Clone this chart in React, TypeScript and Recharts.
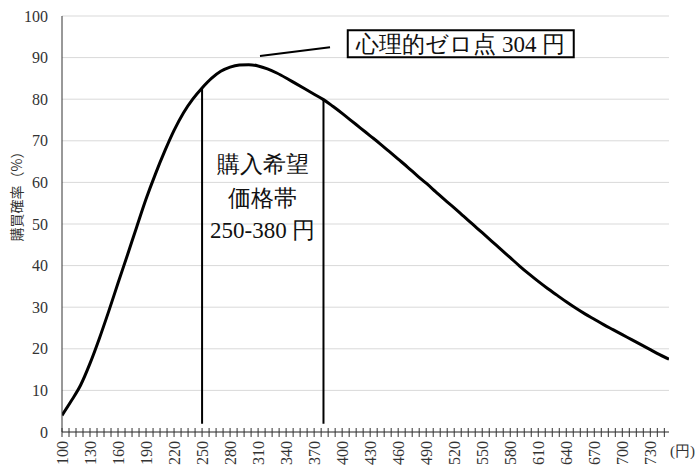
import React from "react";
import {
  CartesianGrid,
  Line,
  LineChart,
  ReferenceArea,
  ReferenceDot,
  ReferenceLine,
  XAxis,
  YAxis,
} from "recharts";

// 価格（円）
const prices = [
  100, 110, 120, 130, 140, 150, 160, 170, 180, 190, 200, 210, 220, 230, 240, 250, 260, 270, 280, 290,
  300, 310, 320, 330, 340, 350, 360, 370, 380, 390, 400, 410, 420, 430, 440, 450, 460, 470, 480, 490,
  500, 510, 520, 530, 540, 550, 560, 570, 580, 590, 600, 610, 620, 630, 640, 650, 660, 670, 680, 690,
  700, 710, 720, 730, 740, 750,
];

// 購買確率（%）
const probability = [
  4.0, 7.5, 11.3, 16.5, 22.5, 29.0, 35.8, 42.5, 49.3, 56.0, 62.0, 67.5, 72.5, 76.7, 80.0, 82.7, 85.0, 86.7, 87.7, 88.2,
  88.3, 88.0, 87.3, 86.3, 85.1, 83.8, 82.5, 81.2, 79.9, 78.3, 76.6, 74.8, 73.0, 71.2, 69.4, 67.5, 65.6, 63.7, 61.7, 59.8,
  57.8, 55.8, 53.9, 51.9, 49.9, 47.9, 45.9, 43.9, 41.9, 39.9, 38.0, 36.2, 34.5, 32.9, 31.3, 29.8, 28.4, 27.1, 25.8, 24.6,
  23.4, 22.2, 21.0, 19.8, 18.6, 17.5,
];

const xLabels = [100, 130, 160, 190, 220, 250, 280, 310, 340, 370, 400, 430, 460, 490, 520, 550, 580, 610, 640, 670, 700, 730];
const yTicks = [0, 10, 20, 30, 40, 50, 60, 70, 80, 90, 100];

// 希望価格帯の境界
const bandLines = [
  { price: 250, from: 2, to: 82.7 },
  { price: 380, from: 2, to: 79.9 },
];
const bandText = ["購入希望", "価格帯", "250-380 円"];
const bandTextY = [64.4, 56.3, 48.6];

const zeroPointLabel = "心理的ゼロ点 304 円";

const X_MIN = 100;
const X_MAX = 750;
const MINOR_STEP = 7.5;
const minorTicks: number[] = [];
for (let v = X_MIN; v < X_MAX; v += MINOR_STEP) minorTicks.push(v);

const data = prices.map((p, i) => ({ price: p, prob: probability[i] }));

const SERIF = "Liberation Serif";
const SANS = "Noto Sans CJK JP";

function XTick(props: any) {
  const { x, y, payload } = props;
  const v = payload.value;
  const showLabel = xLabels.some((l) => Math.abs(l - v) < 0.01);
  return (
    <g>
      <line x1={x} x2={x} y1={y - 4} y2={y + 5} stroke="#333" strokeWidth={1} />
      {showLabel && (
        <text
          x={x}
          y={y + 9}
          transform={`rotate(-90 ${x} ${y + 9})`}
          textAnchor="end"
          dominantBaseline="central"
          fontSize={16}
          fontFamily={SERIF}
          fill="#333"
        >
          {Math.round(v)}
        </text>
      )}
    </g>
  );
}

export default function App() {
  return (
    <div style={{ position: "absolute", left: 0, top: 0, width: 697, height: 470, background: "#fff" }}>
      <LineChart
        width={697}
        height={470}
        data={data}
        margin={{ top: 16, right: 28, bottom: 0, left: 0 }}
        style={{ fontFamily: SERIF }}
      >
        <CartesianGrid horizontal vertical={false} stroke="#d9d9d9" />
        <XAxis
          dataKey="price"
          type="number"
          domain={[X_MIN, X_MAX]}
          ticks={minorTicks}
          interval={0}
          tick={<XTick />}
          tickLine={false}
          tickSize={0}
          tickMargin={0}
          axisLine={{ stroke: "#333" }}
          height={38}
          allowDataOverflow
          label={{
            content: (p: any) => {
              const vb = p.viewBox;
              return (
                <text
                  x={vb.x + vb.width + 1}
                  y={vb.y + 19}
                  fontSize={15}
                  fontFamily={SERIF}
                  fill="#333"
                  dominantBaseline="central"
                >
                  (円)
                </text>
              );
            },
          }}
        />
        <YAxis
          type="number"
          domain={[0, 100]}
          ticks={yTicks}
          interval={0}
          width={62}
          tickLine={false}
          tickSize={0}
          tickMargin={14}
          axisLine={{ stroke: "#333" }}
          tick={{ fontSize: 16, fontFamily: SERIF, fill: "#333" }}
          label={{
            content: () => (
              <text
                x={16}
                y={193}
                transform="rotate(-90 16 193)"
                textAnchor="middle"
                dominantBaseline="central"
                fontSize={14}
                fontFamily={SANS}
                fill="#333"
              >
                購買確率（%）
              </text>
            ),
          }}
        />
        {bandLines.map((b) => (
          <ReferenceLine
            key={b.price}
            segment={[
              { x: b.price, y: b.from },
              { x: b.price, y: b.to },
            ]}
            stroke="#000"
            strokeWidth={2}
          />
        ))}
        <Line
          type="monotone"
          dataKey="prob"
          stroke="#000"
          strokeWidth={3}
          dot={false}
          isAnimationActive={false}
        />
        {bandText.map((t, i) => (
          <ReferenceDot
            key={t}
            x={315}
            y={bandTextY[i]}
            r={0}
            fill="none"
            stroke="none"
            label={{ value: t, position: "center", fontSize: 23, fontFamily: SERIF, fill: "#111" }}
          />
        ))}
        <ReferenceLine
          segment={[
            { x: 312, y: 90.4 },
            { x: 387, y: 92.5 },
          ]}
          stroke="#000"
          strokeWidth={2}
        />
        <ReferenceArea
          x1={406}
          x2={648}
          y1={90.1}
          y2={96.6}
          fill="#fff"
          fillOpacity={1}
          stroke="#000"
          strokeWidth={2}
          label={{ value: zeroPointLabel, position: "center", fontSize: 23, fontFamily: SERIF, fill: "#111" }}
        />
      </LineChart>
    </div>
  );
}
